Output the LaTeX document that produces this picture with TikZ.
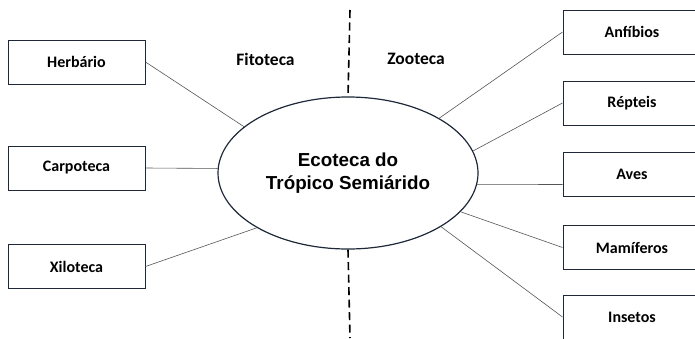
\documentclass[tikz,border=0pt]{standalone}
\usepackage{fontspec}
\setmainfont{Carlito}
\newfontfamily\arialfont{Liberation Sans}
\usetikzlibrary{shapes.geometric}

\definecolor{borda}{HTML}{1E2838}
\definecolor{linha}{HTML}{555555}

\tikzset{
	caixa/.style={draw=borda, line width=1pt, minimum width=137pt, minimum height=44pt,
		inner sep=0pt, font=\bfseries\fontsize{16}{18}\selectfont},
	liga/.style={draw=linha, line width=0.6pt},
	divisa/.style={line width=1.6pt, dash pattern=on 8pt off 4.5pt},
	grupo/.style={font=\bfseries\fontsize{17.5}{19}\selectfont},
}

\begin{document}
\begin{tikzpicture}[x=1pt, y=-1pt]
		
		\clip (0,0) rectangle (695,338);
		
		% elipse central
		\node[ellipse, draw=borda, line width=1.2pt, minimum width=260pt, minimum height=152pt,
		inner sep=0pt, align=center, font=\arialfont\bfseries\fontsize{18.8}{23}\selectfont]
		(eco) at (348,173) {Ecoteca do\\Trópico Semiárido};
		
		% divisão
		\coordinate (topo) at (350,10);
		\coordinate (base) at (350,338);
		\draw[divisa] (topo) -- (eco.north);
		\draw[divisa] (eco.south) -- (base);
		
		\node[grupo] (fito) at (265.5,59) {Fitoteca};
		\node[grupo] (zoo) at (416,59) {Zooteca};
		
		% fitoteca
		\node[caixa] (herb) at (76.5,62) {Herbário};
		\node[caixa] (carpo) at (76.5,168) {Carpoteca};
		\node[caixa] (xilo) at (76.5,266.5) {Xiloteca};
		
		% zooteca
		\node[caixa, minimum width=138pt] (anfi) at (632,32) {Anfíbios};
		\node[caixa, minimum width=138pt] (rept) at (632,103) {Répteis};
		\node[caixa, minimum width=138pt] (aves) at (632,174.5) {Aves};
		\node[caixa, minimum width=138pt] (mami) at (632,247.5) {Mamíferos};
		\node[caixa, minimum width=138pt] (inse) at (632,317) {Insetos};
		
		% ligações
		\draw[liga] (herb.east) -- (eco.156);
		\draw[liga] (carpo.east) -- (eco.178);
		\draw[liga] (xilo.east) -- (eco.211);
		\draw[liga] (anfi.west) -- (eco.31);
		\draw[liga] (rept.west) -- (eco.10);
		\draw[liga] (aves.west) ++(0,10) -- (eco.-5);
		\draw[liga] (mami.west) -- (eco.-19);
		\draw[liga] (inse.west) -- (eco.-30);
		
\end{tikzpicture}
\end{document}
